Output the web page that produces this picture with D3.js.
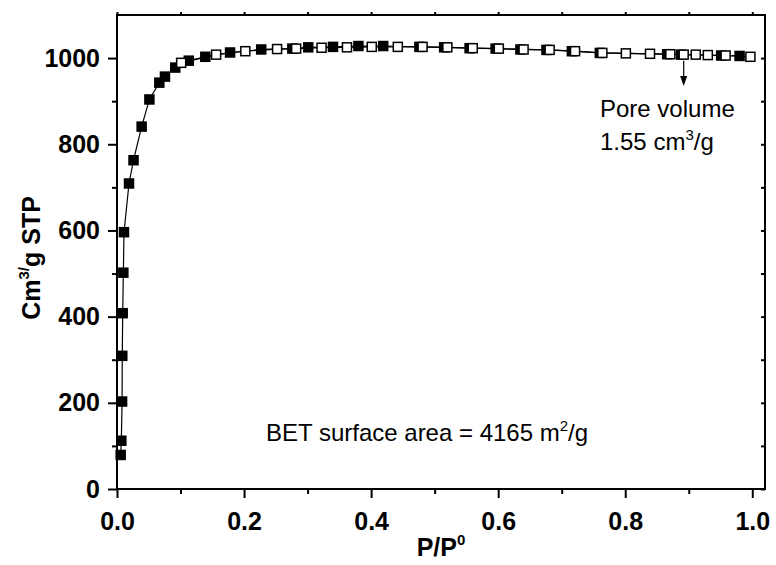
<!DOCTYPE html>
<html>
<head>
<meta charset="utf-8">
<script src="https://cdn.jsdelivr.net/npm/d3@7"></script>
<style>
  html, body { margin: 0; padding: 0; background: #fff; }
  svg { display: block; }
  text { font-family: "Liberation Sans", Arial, sans-serif; fill: #000; }
</style>
</head>
<body>
<svg id="chart" width="776" height="565"></svg>
<script>
// N2 isotherm: adsorption branch (filled squares)
const adsP = [0.0058, 0.0068, 0.0080, 0.0083, 0.0090, 0.0100, 0.0110, 0.0189, 0.026, 0.0388,
              0.051, 0.0666, 0.0755, 0.0917, 0.113, 0.139, 0.178, 0.227, 0.276, 0.301,
              0.340, 0.380, 0.419, 0.476, 0.515, 0.555, 0.596, 0.635, 0.676, 0.716,
              0.760, 0.866, 0.888, 0.951, 0.980];
const adsV = [79, 112, 203, 309, 408, 502, 596, 709, 763, 841,
              904, 943, 957, 978, 994, 1003, 1013, 1020, 1022, 1025,
              1026, 1028, 1028, 1026, 1025, 1023, 1022, 1020, 1019, 1016,
              1012, 1009, 1008, 1006, 1005];

// Desorption branch (open squares)
const desP = [0.101, 0.156, 0.202, 0.252, 0.282, 0.322, 0.362, 0.401, 0.442, 0.481,
              0.520, 0.560, 0.601, 0.640, 0.681, 0.721, 0.764, 0.801, 0.839, 0.871,
              0.892, 0.911, 0.930, 0.958, 0.997];
const desV = [989, 1008, 1016, 1021, 1022, 1024, 1025, 1026, 1026, 1026,
              1025, 1023, 1022, 1020, 1019, 1016, 1012, 1011, 1010, 1009,
              1008, 1008, 1007, 1006, 1003];

// Axis ticks
const xMajor = [0, 0.2, 0.4, 0.6, 0.8, 1.0];
const xMinor = [0.1, 0.3, 0.5, 0.7, 0.9];
const yMajor = [0, 200, 400, 600, 800, 1000];
const yMinor = [100, 300, 500, 700, 900];

// Annotations
const poreP = 0.892, poreV = 1008, poreArrowEnd = 935;
const poreLines = ["Pore volume", "1.55 cm"];
const betText = "BET surface area = 4165 m";

const svg = d3.select("#chart");
const L = 117, R = 765, T = 15, B = 489;

const x = d3.scaleLinear().domain([0, 1.02]).range([L, R]);
const y = d3.scaleLinear().domain([0, 1100]).range([B, T]);

const labelFont = "bold 25px 'Liberation Sans', Arial, sans-serif";

// frame
svg.append("rect")
  .attr("x", L).attr("y", T).attr("width", R - L).attr("height", B - T)
  .attr("fill", "none").attr("stroke", "#000").attr("stroke-width", 2);

// left axis
const yAx = svg.append("g").attr("transform", `translate(${L},0)`)
  .call(d3.axisLeft(y).tickValues(yMajor).tickSize(9).tickPadding(8).tickFormat(d3.format("d")));
svg.append("g").attr("transform", `translate(${L},0)`)
  .call(d3.axisLeft(y).tickValues(yMinor).tickSize(5).tickFormat(""));

// bottom axis
const xAx = svg.append("g").attr("transform", `translate(0,${B})`)
  .call(d3.axisBottom(x).tickValues(xMajor).tickSize(9).tickPadding(14).tickFormat(d3.format(".1f")));
svg.append("g").attr("transform", `translate(0,${B})`)
  .call(d3.axisBottom(x).tickValues(xMinor).tickSize(5).tickFormat(""));

// top and right axes: short ticks without labels
svg.append("g").attr("transform", `translate(0,${T})`)
  .call(d3.axisTop(x).tickValues(xMajor.concat(xMinor)).tickSize(3).tickFormat(""));
svg.append("g").attr("transform", `translate(${R},0)`)
  .call(d3.axisRight(y).tickValues(yMajor.concat(yMinor)).tickSize(-4).tickFormat(""));

svg.selectAll(".domain").remove();
svg.selectAll(".tick line").attr("stroke", "#000").attr("stroke-width", 2);
[yAx, xAx].forEach(g => g.selectAll("text")
  .style("font", labelFont).attr("fill", "#000"));

// axis titles
const xt = svg.append("text")
  .attr("x", (L + R) / 2).attr("y", 556)
  .attr("text-anchor", "middle").style("font", labelFont);
xt.append("tspan").text("P/P");
xt.append("tspan").attr("dy", -11).style("font-size", "15px").text("0");

const yt = svg.append("text")
  .attr("transform", `translate(40,258) rotate(-90)`)
  .attr("text-anchor", "middle").style("font", labelFont);
yt.append("tspan").text("Cm");
yt.append("tspan").attr("dy", -11).style("font-size", "15px").text("3/");
yt.append("tspan").attr("dy", 11).text("g STP");

// connecting lines
const line = d3.line().x(d => x(d[0])).y(d => y(d[1]));
const ads = adsP.map((p, i) => [p, adsV[i]]);
const des = desP.map((p, i) => [p, desV[i]]);
svg.append("path").datum(ads).attr("d", line)
  .attr("fill", "none").attr("stroke", "#000").attr("stroke-width", 1.2);
svg.append("path").datum(des).attr("d", line)
  .attr("fill", "none").attr("stroke", "#000").attr("stroke-width", 1.2);

// markers
const S = 10.5;
svg.append("g").selectAll("rect").data(ads).join("rect")
  .attr("x", d => x(d[0]) - S / 2).attr("y", d => y(d[1]) - S / 2)
  .attr("width", S).attr("height", S).attr("fill", "#000");
svg.append("g").selectAll("rect").data(des).join("rect")
  .attr("x", d => x(d[0]) - (S - 1.5) / 2).attr("y", d => y(d[1]) - (S - 1.5) / 2)
  .attr("width", S - 1.5).attr("height", S - 1.5)
  .attr("fill", "#fff").attr("stroke", "#000").attr("stroke-width", 1.5);

// pore volume arrow
const ax = x(poreP);
svg.append("line")
  .attr("x1", ax).attr("x2", ax)
  .attr("y1", y(poreV) + 6).attr("y2", y(poreArrowEnd) - 8)
  .attr("stroke", "#000").attr("stroke-width", 1.2);
svg.append("path")
  .attr("d", `M${ax - 3.5},${y(poreArrowEnd) - 10} L${ax + 3.5},${y(poreArrowEnd) - 10} L${ax},${y(poreArrowEnd)} Z`)
  .attr("fill", "#000");

const annFont = "24px 'Liberation Sans', Arial, sans-serif";
svg.append("text").attr("x", 600).attr("y", 117).style("font", annFont).text(poreLines[0]);
const pv = svg.append("text").attr("x", 600).attr("y", 150).style("font", annFont);
pv.append("tspan").text(poreLines[1]);
pv.append("tspan").attr("dy", -10).style("font-size", "15px").text("3");
pv.append("tspan").attr("dy", 10).text("/g");

const bt = svg.append("text").attr("x", 266).attr("y", 441).style("font", annFont);
bt.append("tspan").text(betText);
bt.append("tspan").attr("dy", -10).style("font-size", "15px").text("2");
bt.append("tspan").attr("dy", 10).text("/g");
</script>
</body>
</html>
